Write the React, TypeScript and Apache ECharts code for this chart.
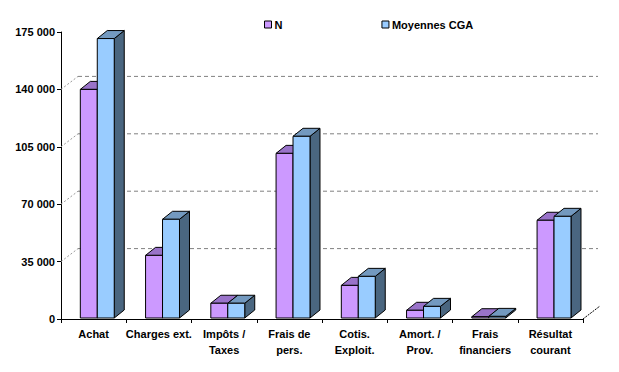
import React, { useEffect, useRef } from "react";
import * as echarts from "echarts";

const categories = [
  "Achat",
  "Charges ext.",
  "Impôts /\nTaxes",
  "Frais de\npers.",
  "Cotis.\nExploit.",
  "Amort. /\nProv.",
  "Frais\nfinanciers",
  "Résultat\ncourant",
];
const seriesN = [140000, 38800, 9600, 101000, 20500, 5300, 1400, 60200];
const seriesCGA = [171000, 60800, 9600, 111400, 26000, 7700, 1600, 62600];
const gridValues = [35000, 70000, 105000, 140000];
const yMin = 0;
const yMax = 175000;
const yInterval = 35000;

const FONT = "'Liberation Sans', Arial, sans-serif";
const DX = 10;
const DY = 8;
const WALL_DX = 17;
const WALL_DY = 13;

function fmt(v: number) {
  return String(v).replace(/\B(?=(\d{3})+(?!\d))/g, " ");
}

function makeBarRenderer(offsetFrac: number, front: string, top: string, side: string) {
  return (params: any, api: any) => {
    const idx = api.value(0);
    const v = api.value(1);
    const p = api.coord([idx, v]);
    const z = api.coord([idx, 0]);
    const band = api.size([1, 0])[0];
    const bw = band * 0.26;
    const x = p[0] + offsetFrac * band;
    const yt = p[1];
    const yb = z[1] - 1;
    const stroke = { stroke: "#000", lineWidth: 1 };
    return {
      type: "group",
      children: [
        {
          type: "polygon",
          shape: {
            points: [
              [x + bw, yt],
              [x + bw + DX, yt - DY],
              [x + bw + DX, yb - DY],
              [x + bw, yb],
            ],
          },
          style: { fill: side, ...stroke },
        },
        {
          type: "polygon",
          shape: {
            points: [
              [x, yt],
              [x + DX, yt - DY],
              [x + bw + DX, yt - DY],
              [x + bw, yt],
            ],
          },
          style: { fill: top, ...stroke },
        },
        {
          type: "polygon",
          shape: {
            points: [
              [x, yt],
              [x + bw, yt],
              [x + bw, yb],
              [x, yb],
            ],
          },
          style: { fill: front, ...stroke },
        },
      ],
    };
  };
}

export default function App() {
  const ref = useRef<HTMLDivElement>(null);
  useEffect(() => {
    if (!ref.current) return;
    const chart = echarts.init(ref.current, undefined, { renderer: "svg" });
    const textStyle = { fontFamily: FONT, fontSize: 11, fontWeight: "bold" as const, color: "#000" };
    chart.setOption({
      animation: false,
      backgroundColor: "#fff",
      legend: {
        data: ["N", "Moyennes CGA"],
        left: 259,
        top: 14,
        itemWidth: 7,
        itemHeight: 7,
        itemGap: 99,
        icon: "rect",
        itemStyle: { borderColor: "#000", borderWidth: 1 },
        textStyle: { ...textStyle, padding: [0, 0, 0, -2] },
      },
      grid: { left: 61, top: 32, right: 36, bottom: 53 },
      xAxis: {
        type: "category",
        data: categories,
        axisLine: { lineStyle: { color: "#000", width: 1 } },
        axisTick: { show: true, length: 4, lineStyle: { color: "#000" } },
        axisLabel: { ...textStyle, margin: 7, lineHeight: 16, interval: 0 },
        splitLine: { show: false },
      },
      yAxis: {
        type: "value",
        min: yMin,
        max: yMax,
        interval: yInterval,
        axisLine: { show: true, lineStyle: { color: "#000", width: 1 } },
        axisTick: { show: true, length: 4, lineStyle: { color: "#000" } },
        axisLabel: { ...textStyle, margin: 6, formatter: (v: number) => fmt(v) },
        splitLine: { show: false },
      },
      series: [
        {
          name: "walls",
          type: "custom",
          silent: true,
          data: gridValues.map((v) => [0, v]),
          encode: { x: 0, y: 1 },
          renderItem: (params: any, api: any) => {
            const cs = params.coordSys;
            const y = api.coord([0, api.value(1)])[1];
            return {
              type: "group",
              children: [
                {
                  type: "line",
                  shape: { x1: cs.x, y1: y, x2: cs.x + WALL_DX, y2: y - WALL_DY },
                  style: { stroke: "#999", lineWidth: 1, lineDash: [2, 2] },
                },
                {
                  type: "line",
                  shape: {
                    x1: cs.x + WALL_DX,
                    y1: y - WALL_DY,
                    x2: cs.x + cs.width + 15,
                    y2: y - WALL_DY,
                  },
                  style: { stroke: "#808080", lineWidth: 1, lineDash: [4, 3] },
                },
              ],
            };
          },
        },
        {
          name: "floor",
          type: "custom",
          silent: true,
          data: [[0, 0]],
          encode: { x: 0, y: 1 },
          renderItem: (params: any, api: any) => {
            const cs = params.coordSys;
            const y = api.coord([0, api.value(1)])[1];
            const x = cs.x + cs.width;
            return {
              type: "line",
              shape: { x1: x, y1: y, x2: x + WALL_DX, y2: y - WALL_DY },
              style: { stroke: "#000", lineWidth: 1, lineDash: [2, 1] },
            };
          },
        },
        {
          name: "N",
          type: "custom",
          data: seriesN.map((v, i) => [i, v]),
          encode: { x: 0, y: 1 },
          itemStyle: { color: "#CC99FF", borderColor: "#000", borderWidth: 1 },
          renderItem: makeBarRenderer(-0.204, "#CC99FF", "#9973C9", "#6E5290"),
        },
        {
          name: "Moyennes CGA",
          type: "custom",
          data: seriesCGA.map((v, i) => [i, v]),
          encode: { x: 0, y: 1 },
          itemStyle: { color: "#99CCFF", borderColor: "#000", borderWidth: 1 },
          renderItem: makeBarRenderer(0.056, "#99CCFF", "#7399BF", "#4A6680"),
        },
      ],
    });
    return () => chart.dispose();
  }, []);
  return (
    <div
      ref={ref}
      style={{ position: "fixed", left: 0, top: 0, width: 619, height: 372 }}
    />
  );
}
